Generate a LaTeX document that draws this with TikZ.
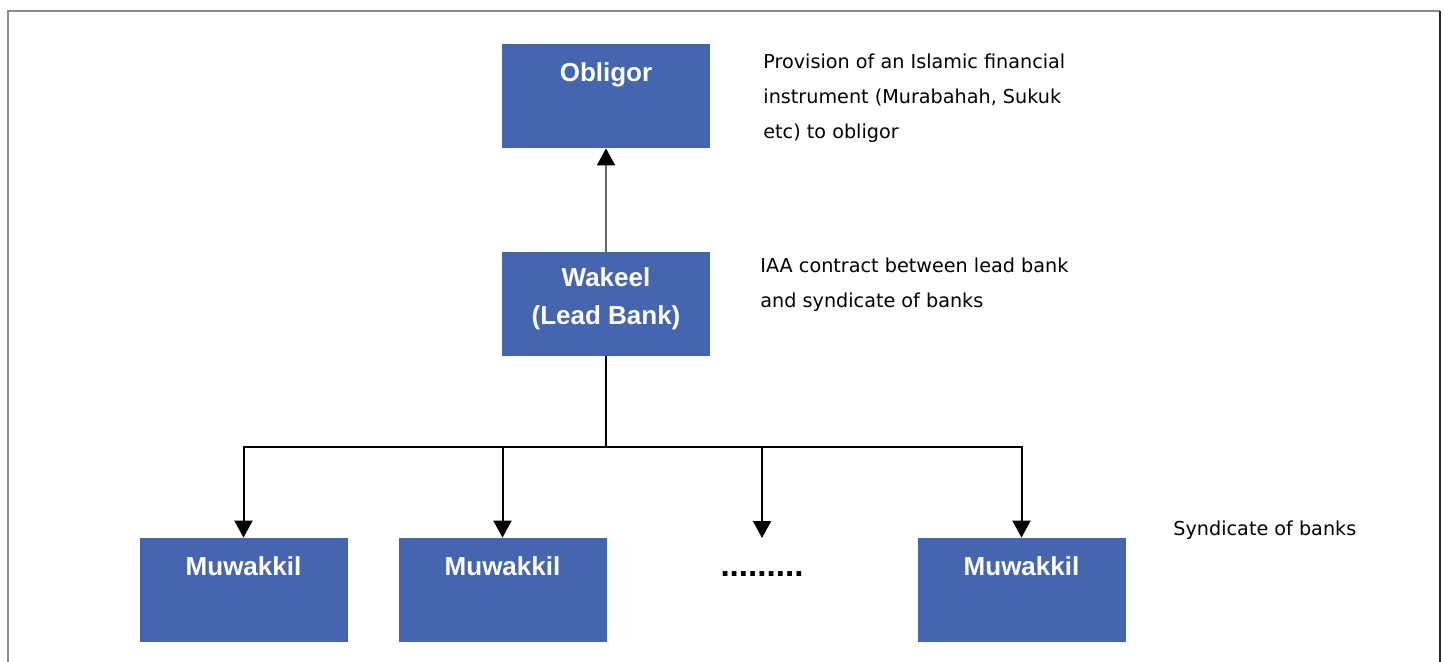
\documentclass[tikz,border=0pt]{standalone}
\usepackage{fontspec}
\setmainfont{Liberation Sans}
\newfontfamily\notefont{DejaVu Sans}
\usetikzlibrary{arrows.meta}
\definecolor{boxblue}{RGB}{69,102,175}
\definecolor{framegray}{RGB}{140,140,140}
\begin{document}
\begin{tikzpicture}[x=0.5pt,y=-0.5pt,
  bluebox/.style={rectangle,fill=boxblue,draw=none,minimum width=104pt,minimum height=52pt,inner sep=0pt},
  boxlabel/.style={text=white,font=\fontsize{13}{19}\selectfont\bfseries,align=center,inner sep=0pt},
  note/.style={font=\notefont\fontsize{9.6}{17.5}\selectfont,align=left,anchor=west,inner sep=0pt},
  conn/.style={line width=1pt,-{Triangle[width=9pt,length=8.5pt]}}
]
\useasboundingbox (0,0) rectangle (1444,662);
% frame
\draw[framegray,line width=1pt] (8,662) -- (8,11) -- (1440,11);
\draw[black!85,line width=1.2pt] (1440,11) -- (1440,662);

% boxes
\node[bluebox] (obl) at (606,96) {};
\node[bluebox] (wak) at (606,304) {};
\node[bluebox] (m1) at (243.5,590) {};
\node[bluebox] (m2) at (502.5,590) {};
\node[bluebox] (m4) at (1021.5,590) {};

\node[boxlabel] (oblt) at (606,75) {Obligor};
\node[boxlabel] (wakt) at (606,299) {Wakeel\\(Lead Bank)};
\node[boxlabel] (m1t) at (243.5,566) {Muwakkil};
\node[boxlabel] (m2t) at (502.5,566) {Muwakkil};
\node[boxlabel] (m4t) at (1021.5,566) {Muwakkil};
\node[font=\fontsize{16.6}{20}\selectfont\bfseries,inner sep=0pt] (dots) at (762,574) {.........};

% notes
\node[note] (n1) at (763,98) {Provision of an Islamic financial\\instrument (Murabahah, Sukuk\\etc) to obligor};
\node[note] (n2) at (760,285) {IAA contract between lead bank\\and syndicate of banks};
\node[note] (n3) at (1173,530) {Syndicate of banks};

% connectors
\coordinate (j) at (606,447);
\coordinate (dend) at (762,538);
\draw[conn,draw=gray!80!black,-{Triangle[width=9pt,length=8.5pt,black]}] (wak.north) -- (obl.south);
\draw[line width=1pt] (wak.south) -- (j);
\draw[conn] (j) -| (m1.north);
\draw[conn] (j) -| (m2.north);
\draw[conn] (j) -| (dend);
\draw[conn] (j) -| (m4.north);
\end{tikzpicture}
\end{document}
